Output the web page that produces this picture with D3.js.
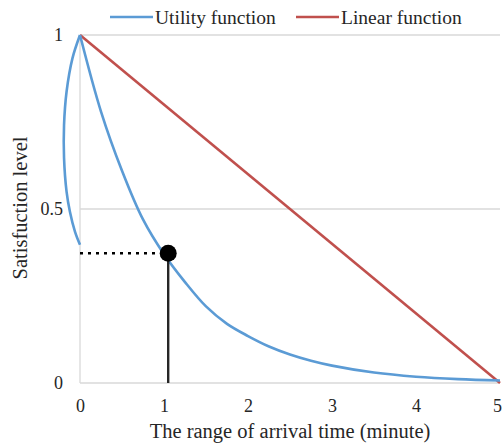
<!DOCTYPE html>
<html>
<head>
    <title>Utility vs linear</title>
    <style>
        body { margin: 0; background: #fff; }
        text { font-family: "Liberation Serif", "Times New Roman", serif; fill: #262626; }
    </style>
    <script src="https://d3js.org/d3.v7.min.js"></script>
</head>
<body>
    <div id="chart"></div>

    <script>
        // values
        var loopX = [0, -0.06, -0.12, -0.16, -0.19, -0.19, -0.16, -0.09, 0];
        var loopY = [0.397, 0.435, 0.492, 0.55, 0.647, 0.741, 0.837, 0.933, 1];
        var utilX = [0, 0.25, 0.5, 0.75, 1, 1.25, 1.5, 1.75, 2, 2.25, 2.5, 2.75, 3, 3.5, 4, 4.5, 5];
        var utilY = [1, 0.78, 0.61, 0.47, 0.37, 0.29, 0.22, 0.17, 0.135, 0.105, 0.082, 0.064, 0.05, 0.03, 0.018, 0.011, 0.007];
        var linearX = [0, 5];
        var linearY = [1, 0];
        var markX = 1.05, markY = 0.373;
        var xTicks = [0, 1, 2, 3, 4, 5];
        var yTicks = [0, 0.5, 1];
        var seriesNames = ['Utility function', 'Linear function'];

        var width = 502, height = 445;
        var margin = { top: 35, right: 2, bottom: 62, left: 80 };
        var w = width - margin.left - margin.right;
        var h = height - margin.top - margin.bottom;

        var svg = d3.select('#chart').append('svg')
            .attr('width', width)
            .attr('height', height);

        var g = svg.append('g')
            .attr('transform', 'translate(' + margin.left + ',' + margin.top + ')');

        var x = d3.scaleLinear().domain([0, 5]).range([0, w]);
        var y = d3.scaleLinear().domain([0, 1]).range([h, 0]);

        // gridlines
        g.selectAll('.grid')
            .data(yTicks)
            .enter().append('line')
            .attr('x1', 0).attr('x2', w)
            .attr('y1', function(d) { return y(d); })
            .attr('y2', function(d) { return y(d); })
            .attr('stroke', '#d9d9d9')
            .attr('stroke-width', 1.3);

        g.append('line')
            .attr('x1', x(0)).attr('x2', x(0))
            .attr('y1', y(1)).attr('y2', y(0))
            .attr('stroke', '#d9d9d9')
            .attr('stroke-width', 1.3);

        // axes, only labels
        var xAxis = d3.axisBottom(x).tickValues(xTicks).tickSize(0).tickPadding(16).tickFormat(d3.format('d'));
        var yAxis = d3.axisLeft(y).tickValues(yTicks).tickSize(0).tickPadding(17).tickFormat(function(d) { return d; });

        var gx = g.append('g').attr('transform', 'translate(0,' + h + ')').call(xAxis);
        var gy = g.append('g').call(yAxis);
        [gx, gy].forEach(function(a) {
            a.select('.domain').remove();
            a.selectAll('text').style('font-size', '18px').style('font-family', '"Liberation Serif", serif').attr('fill', '#404040');
        });
        gx.selectAll('text').attr('dy', '0.71em');
        gx.selectAll('.tick').filter(function(d) { return d === 5; }).select('text').attr('dx', '-3');

        var line = d3.line()
            .x(function(d) { return x(d[0]); })
            .y(function(d) { return y(d[1]); });

        // linear function
        g.append('path')
            .datum(d3.zip(linearX, linearY))
            .attr('d', line)
            .attr('fill', 'none')
            .attr('stroke', '#c0504d')
            .attr('stroke-width', 2.6);

        // utility function: loop then decay
        g.append('path')
            .datum(d3.zip(loopX, loopY))
            .attr('d', line.curve(d3.curveCatmullRom))
            .attr('fill', 'none')
            .attr('stroke', '#5b9bd5')
            .attr('stroke-width', 2.6);

        g.append('path')
            .datum(d3.zip(utilX, utilY))
            .attr('d', line.curve(d3.curveCatmullRom))
            .attr('fill', 'none')
            .attr('stroke', '#5b9bd5')
            .attr('stroke-width', 2.6);

        // marker
        g.append('line')
            .attr('x1', x(0)).attr('x2', x(markX))
            .attr('y1', y(markY)).attr('y2', y(markY))
            .attr('stroke', '#000')
            .attr('stroke-width', 2.4)
            .attr('stroke-dasharray', '3,5');

        g.append('line')
            .attr('x1', x(markX)).attr('x2', x(markX))
            .attr('y1', y(markY)).attr('y2', y(0))
            .attr('stroke', '#262626')
            .attr('stroke-width', 2.4);

        g.append('circle')
            .attr('cx', x(markX))
            .attr('cy', y(markY))
            .attr('r', 8.5)
            .attr('fill', '#000');

        // axis titles
        svg.append('text')
            .attr('x', 290)
            .attr('y', 438)
            .attr('text-anchor', 'middle')
            .style('font-size', '20.5px')
            .text('The range of arrival time (minute)');

        svg.append('text')
            .attr('transform', 'rotate(-90)')
            .attr('x', -208)
            .attr('y', 27)
            .attr('text-anchor', 'middle')
            .style('font-size', '20.5px')
            .text('Satisfuction level');

        // legend
        var legendX = [110, 296];
        var legendColors = ['#5b9bd5', '#c0504d'];
        var legend = svg.selectAll('.legend')
            .data(seriesNames)
            .enter().append('g')
            .attr('transform', function(d, i) { return 'translate(' + legendX[i] + ',17)'; });

        legend.append('line')
            .attr('x1', 0).attr('x2', 43)
            .attr('stroke', function(d, i) { return legendColors[i]; })
            .attr('stroke-width', 2.6);

        legend.append('text')
            .attr('x', 45)
            .attr('dy', '0.35em')
            .style('font-size', '19.5px')
            .text(function(d) { return d; });
    </script>
</body>
</html>
